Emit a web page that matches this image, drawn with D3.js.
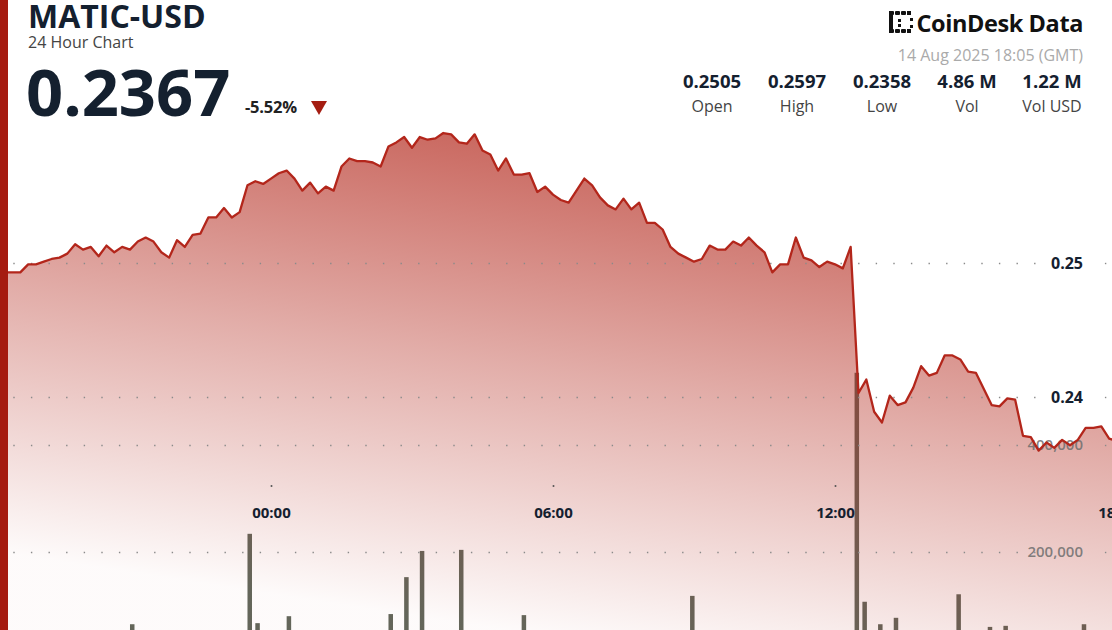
<!DOCTYPE html>
<html><head><meta charset="utf-8">
<script src="https://cdn.jsdelivr.net/npm/d3@7"></script>
<style>
html,body{margin:0;padding:0;background:#fff;}
svg{display:block;font-family:"Open Sans","Noto Sans",sans-serif;}
</style></head><body><svg id="c" width="1112" height="630"></svg>
<script>
// ---------- data ----------
const symbol = "MATIC-USD";
const subtitle = "24 Hour Chart";
const lastPrice = "0.2367";
const changePct = "-5.52%";
const dateLabel = "14 Aug 2025 18:05 (GMT)";
const statValues = ["0.2505", "0.2597", "0.2358", "4.86 M", "1.22 M"];
const statLabels = ["Open", "High", "Low", "Vol", "Vol USD"];

const windowStart = "2025-08-13T18:05:00Z";
const windowEnd = "2025-08-14T18:05:00Z";
const firstPointTime = "2025-08-13T18:10:00Z"; // 10-minute points
const prices = [
  0.2493,0.2493,0.2493,0.2493,0.2499,0.2499,0.2501,0.2503,0.2504,0.2507,
  0.2514,0.2510,0.2512,0.2505,0.2513,0.2508,0.2512,0.2510,0.2516,0.2519,
  0.2516,0.2508,0.2504,0.2517,0.2512,0.2521,0.2522,0.2534,0.2534,0.2541,
  0.2534,0.2538,0.2558,0.2561,0.2559,0.2563,0.2567,0.2569,0.2563,0.2554,
  0.2560,0.2552,0.2557,0.2554,0.2572,0.2578,0.2576,0.2576,0.2575,0.2572,
  0.2587,0.2590,0.2594,0.2586,0.2594,0.2592,0.2593,0.2597,0.2596,0.2590,
  0.2589,0.2596,0.2584,0.2581,0.2569,0.2578,0.2566,0.2566,0.2567,0.2553,
  0.2557,0.2551,0.2547,0.2545,0.2554,0.2563,0.2558,0.2549,0.2543,0.2540,
  0.2548,0.2540,0.2545,0.2530,0.2530,0.2525,0.2512,0.2507,0.2504,0.2501,
  0.2503,0.2513,0.2510,0.2510,0.2516,0.2513,0.2519,0.2513,0.2508,0.2493,
  0.2499,0.2499,0.2519,0.2504,0.2502,0.2497,0.2501,0.2499,0.2496,0.2512,
  0.2403,0.2413,0.2389,0.2381,0.2401,0.2394,0.2396,0.2407,0.2423,0.2416,
  0.2418,0.2431,0.2431,0.2428,0.2419,0.2418,0.2406,0.2394,0.2393,0.2399,
  0.2398,0.2371,0.2370,0.2360,0.2366,0.2362,0.2368,0.2364,0.2368,0.2377,
  0.2377,0.2378,0.2369,0.2367
];
// volume bars (visible ones): minutes relative to 14 Aug 00:00 UTC
const volMinutes = [-180,-30,-20,20,150,170,190,240,320,535,745,755,775,795,875,915,935,1035];
const volValues  = [65000,234000,67000,80000,84000,153000,202000,204000,82000,118000,535000,107000,65000,77000,121000,60000,62000,65000];

const priceTicks = [0.24, 0.25];
const volTicks = [200000, 400000];
const timeTicks = ["2025-08-14T00:00:00Z","2025-08-14T06:00:00Z","2025-08-14T12:00:00Z","2025-08-14T18:00:00Z"];

// ---------- setup ----------
const W = 1112, H = 630;
const svg = d3.select("#c");
const ink = "#14202f";
const FONT = '"Open Sans","Noto Sans",sans-serif';

const x = d3.scaleUtc().domain([new Date(windowStart), new Date(windowEnd)]).range([-7.1, 1120.9]);
const y = d3.scaleLinear().domain([0.24, 0.25]).range([397, 263]);
const yv = d3.scaleLinear().domain([0, 200000]).range([659, 552]);

const t0 = new Date(firstPointTime).getTime();
const series = prices.map((p, i) => ({ t: new Date(t0 + i * 600000), p }));
const day0 = new Date("2025-08-14T00:00:00Z").getTime();
const vols = volMinutes.map((m, i) => ({ t: new Date(day0 + m * 60000), v: volValues[i] }));

// gradient
const defs = svg.append("defs");
const grad = defs.append("linearGradient").attr("id", "ag")
  .attr("gradientUnits", "userSpaceOnUse")
  .attr("x1", 650).attr("y1", 120).attr("x2", 570).attr("y2", 640);
grad.append("stop").attr("offset", 0).attr("stop-color", "#b3281c").attr("stop-opacity", 0.76);
grad.append("stop").attr("offset", 0.5).attr("stop-color", "#b3281c").attr("stop-opacity", 0.38);
grad.append("stop").attr("offset", 1).attr("stop-color", "#b3281c").attr("stop-opacity", 0.02);

// volume bars (behind the area)
svg.append("g").selectAll("rect").data(vols).join("rect")
  .attr("x", d => x(d.t)).attr("width", 4.5)
  .attr("y", d => yv(d.v)).attr("height", d => yv(0) - yv(d.v))
  .attr("fill", "#62675b");

// area
svg.append("path").datum(series)
  .attr("fill", "url(#ag)")
  .attr("d", d3.area().x(d => x(d.t)).y0(H + 20).y1(d => y(d.p)));

// gridlines (dotted), split around labels
function grid(yy) {
  const g = svg.append("g");
  [[13.3, 1040], [1104.9, W]].forEach(([a, b]) => {
    g.append("line").attr("x1", a).attr("x2", b).attr("y1", yy).attr("y2", yy)
      .attr("stroke", "#8a8a8a").attr("stroke-width", 1.4)
      .attr("stroke-dasharray", "1.4,16.2");
  });
}
priceTicks.forEach(v => grid(Math.round(y(v)) + 0.5));
volTicks.forEach(v => grid(Math.round(yv(v)) + 0.5));

// volume axis labels
const va = svg.append("g").attr("transform", "translate(1083,0)")
  .call(d3.axisLeft(yv).tickValues(volTicks).tickSize(0).tickPadding(0).tickFormat(d3.format(",")));
va.select(".domain").remove();
va.selectAll("text").attr("font-size", 15).attr("font-weight", 600)
  .attr("fill", "#6e6e6e").attr("fill-opacity", 0.85).attr("font-family", FONT);

// price line
svg.append("path").datum(series)
  .attr("fill", "none").attr("stroke", "#b3261b").attr("stroke-width", 2.3)
  .attr("stroke-linejoin", "round")
  .attr("d", d3.line().x(d => x(d.t)).y(d => y(d.p)));

// price axis labels
const pa = svg.append("g").attr("transform", "translate(1083,0)")
  .call(d3.axisLeft(y).tickValues(priceTicks).tickSize(0).tickPadding(0).tickFormat(d3.format(".2f")));
pa.select(".domain").remove();
pa.selectAll("text").attr("font-size", 16).attr("font-weight", 700)
  .attr("fill", ink).attr("font-family", FONT);

// time axis
const ta = svg.append("g").attr("transform", "translate(0,486)")
  .call(d3.axisBottom(x).tickValues(timeTicks.map(s => new Date(s))).tickSize(0).tickPadding(21)
    .tickFormat(d3.utcFormat("%H:%M")));
ta.select(".domain").remove();
ta.selectAll("text").attr("font-size", 15).attr("font-weight", 700)
  .attr("fill", ink).attr("font-family", FONT);
ta.selectAll(".tick").append("circle").attr("r", 1).attr("fill", "#555");

// left red bar
svg.append("rect").attr("x", 0).attr("y", 0).attr("width", 8).attr("height", H).attr("fill", "#a51b10");

// ---------- header ----------
svg.append("text").attr("x", 28).attr("y", 28).text(symbol)
  .attr("font-size", 32).attr("font-weight", 700).attr("fill", ink);
svg.append("text").attr("x", 28).attr("y", 48).text(subtitle)
  .attr("font-size", 16).attr("fill", "#444");
svg.append("text").attr("x", 26).attr("y", 116).text(lastPrice)
  .attr("font-size", 65).attr("font-weight", 700).attr("fill", ink);
svg.append("text").attr("x", 245).attr("y", 113).text(changePct)
  .attr("font-size", 16.5).attr("font-weight", 700).attr("fill", "#222").attr("letter-spacing", -0.2);
svg.append("path").attr("d", "M311,101 L327,101 L319,115 Z").attr("fill", "#a51d12");

// logo
const logo = svg.append("g").attr("fill", "#111");
logo.append("rect").attr("x", 889).attr("y", 11).attr("width", 4).attr("height", 22);
[[889,11],[895,11],[901,11],[889,29],[895,29],[901,29]].forEach(([a,b]) =>
  logo.append("rect").attr("x", a).attr("y", b).attr("width", 5).attr("height", 4).attr("rx", 1));
[[907,11],[907,29]].forEach(([a,b]) =>
  logo.append("rect").attr("x", a).attr("y", b).attr("width", 4).attr("height", 4));
[[898,19],[898,24],[910,18],[910,25]].forEach(([a,b]) =>
  logo.append("rect").attr("x", a).attr("y", b).attr("width", 3).attr("height", 3));
svg.append("text").attr("x", 1083).attr("y", 32).attr("text-anchor", "end").text("CoinDesk Data")
  .attr("font-size", 23.5).attr("font-weight", 700).attr("fill", "#111").attr("letter-spacing", -0.4);

svg.append("text").attr("x", 1083).attr("y", 61).attr("text-anchor", "end").text(dateLabel)
  .attr("font-size", 16).attr("fill", "#aaa");

const colX = [712, 797, 882, 967, 1052];
statValues.forEach((v, i) => {
  svg.append("text").attr("x", colX[i]).attr("y", 88).attr("text-anchor", "middle").text(v)
    .attr("font-size", 18.5).attr("font-weight", 700).attr("fill", ink);
  svg.append("text").attr("x", colX[i]).attr("y", 112).attr("text-anchor", "middle").text(statLabels[i])
    .attr("font-size", 16).attr("fill", "#444");
});
</script></body></html>
